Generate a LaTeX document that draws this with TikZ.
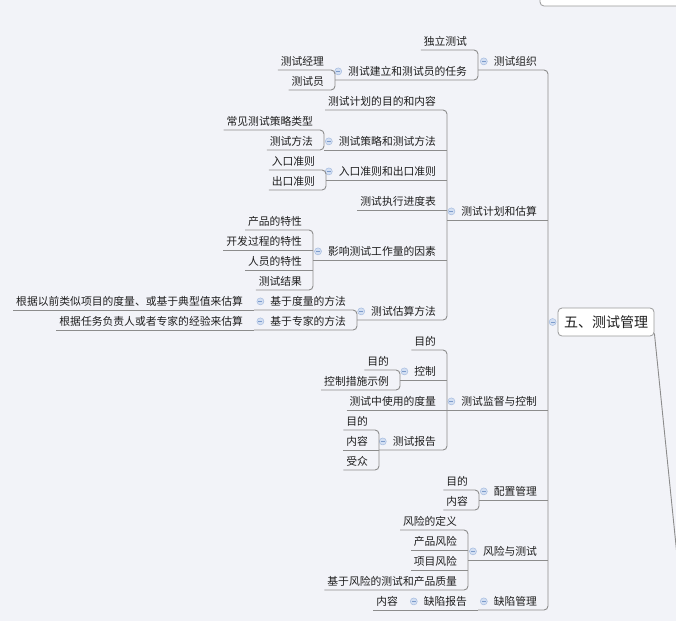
\documentclass[tikz,border=0pt]{standalone}
\usepackage{fontspec}
\newfontfamily\cjk{Noto Sans CJK SC}
\definecolor{bg}{HTML}{F2F3F8}
\definecolor{lnc}{HTML}{8C8C8C}
\definecolor{btnfill}{HTML}{D3DFF2}
\definecolor{btnedge}{HTML}{A6BCE0}
\definecolor{btnminus}{HTML}{7C9BCB}
\definecolor{txtc}{HTML}{1E1E1E}
\definecolor{boxedge}{HTML}{9A9A9A}
\tikzset{
  txt/.style={anchor=base east,inner sep=0pt,outer sep=0pt,text=txtc,font=\cjk\fontsize{10.8}{12}\selectfont},
  ln/.style={draw=lnc,line width=0.9pt},
  btn/.style={circle,fill=btnfill,draw=btnedge,line width=0.5pt,minimum size=7pt,inner sep=0pt,
    path picture={\draw[btnminus,line width=0.8pt] ([xshift=-2pt]path picture bounding box.center) -- ([xshift=2pt]path picture bounding box.center);}},
  rootbox/.style={draw=boxedge,fill=white,rounded corners=4pt,line width=0.8pt,minimum width=96pt,minimum height=28pt,inner sep=0pt,text=txtc,font=\cjk\fontsize{14}{16}\selectfont}
}
\newcommand\mleaf[4]{%
  \node[txt] (#1) at (#2-11,#3-4.5) {#4};
  \coordinate (#1-r) at (#2,#3);
  \coordinate (#1-l) at ([xshift=-3pt,yshift=-4.5pt]#1.base west);
}
\newcommand\mtopic[5]{%
  \node[txt] (#1) at (#2-11,#3-4.5) {#5};
  \coordinate (#1-r) at (#2,#3);
  \coordinate (#1-l) at (#4,#3);
  \node[btn] (#1-b) at ([xshift=-10pt]#1.west) {};
}
\newcommand\mbrk[2]{\draw[ln,rounded corners=4pt] (#1-l) -- (#1-r) -- (#2-r) -- (#2-l);}
\newcommand\mline[1]{\draw[ln] (#1-l) -- (#1-r);}
\begin{document}
\begin{tikzpicture}[x=1pt,y=-1pt]
\fill[bg] (0,0) rectangle (676,621);
\clip (0,0) rectangle (676,621);
\useasboundingbox (0,0) rectangle (676,621);
% previous sibling box (only its bottom shows)
\node[rootbox,minimum width=142pt,minimum height=30pt] (prev) at (611,-9) {};
% root
\node[rootbox] (root) at (606,322) {五、测试管理};
\node[btn] (root-b) at ([xshift=-5pt]root.west) {};
\coordinate (offpage) at (678.5,570);
\draw[ln] ([yshift=3pt]root.south east) -- (offpage);
% level 1
\mtopic{org}{548}{70}{478}{测试组织}
\mtopic{plan}{548}{220}{447}{测试计划和估算}
\mtopic{mon}{548}{410}{447}{测试监督与控制}
\mtopic{cfg}{548}{500}{479}{配置管理}
\mtopic{risk}{548}{560}{468}{风险与测试}
\mtopic{def}{548}{610}{478}{缺陷管理}
% org
\mleaf{ind}{478}{50}{独立测试}
\mtopic{est}{478}{80}{335}{测试建立和测试员的任务}
\mleaf{mgr}{335}{70}{测试经理}
\mleaf{tst}{335}{90}{测试员}
% plan
\mleaf{pp}{447}{110}{测试计划的目的和内容}
\mtopic{stg}{447}{150}{324}{测试策略和测试方法}
\mleaf{stga}{324}{130}{常见测试策略类型}
\mleaf{stgb}{324}{150}{测试方法}
\mtopic{ent}{447}{180}{326}{入口准则和出口准则}
\mleaf{enta}{326}{170}{入口准则}
\mleaf{entb}{326}{190}{出口准则}
\mleaf{sch}{447}{210}{测试执行进度表}
\mtopic{fac}{447}{260}{313}{影响测试工作量的因素}
\mleaf{faca}{313}{230}{产品的特性}
\mleaf{facb}{313}{250}{开发过程的特性}
\mleaf{facc}{313}{270}{人员的特性}
\mleaf{facd}{313}{290}{测试结果}
\mtopic{esm}{447}{320}{357}{测试估算方法}
\mtopic{mea}{357}{310}{254}{基于度量的方法}
\mleaf{meaa}{254}{310}{根据以前类似项目的度量、或基于典型值来估算}
\mtopic{exp}{357}{330}{254}{基于专家的方法}
\mleaf{expa}{254}{330}{根据任务负责人或者专家的经验来估算}
% mon
\mleaf{mona}{447}{350}{目的}
\mtopic{ctl}{447}{380}{400}{控制}
\mleaf{ctla}{400}{370}{目的}
\mleaf{ctlb}{400}{390}{控制措施示例}
\mleaf{mus}{447}{410}{测试中使用的度量}
\mtopic{rpt}{447}{450}{379}{测试报告}
\mleaf{rpta}{379}{430}{目的}
\mleaf{rptb}{379}{450}{内容}
\mleaf{rptc}{379}{470}{受众}
% cfg
\mleaf{cfga}{479}{490}{目的}
\mleaf{cfgb}{479}{510}{内容}
% risk
\mleaf{riska}{468}{530}{风险的定义}
\mleaf{riskb}{468}{550}{产品风险}
\mleaf{riskc}{468}{570}{项目风险}
\mleaf{riskd}{468}{590}{基于风险的测试和产品质量}
% def
\mtopic{rep}{478}{610}{409}{缺陷报告}
\mleaf{repa}{409}{610}{内容}
% connectors
\mbrk{org}{def} \mline{plan} \mline{mon} \mline{cfg} \mline{risk}
\mbrk{ind}{est}
\mbrk{mgr}{tst}
\mbrk{pp}{esm} \mline{stg} \mline{ent} \mline{sch} \mline{fac}
\mbrk{stga}{stgb}
\mbrk{enta}{entb}
\mbrk{faca}{facd} \mline{facb} \mline{facc}
\mbrk{mea}{exp} \mline{meaa} \mline{expa}
\mbrk{mona}{rpt} \mline{ctl} \mline{mus}
\mbrk{ctla}{ctlb}
\mbrk{rpta}{rptc} \mline{rptb}
\mbrk{cfga}{cfgb}
\mbrk{riska}{riskd} \mline{riskb} \mline{riskc}
\mline{rep} \mline{repa}
\end{tikzpicture}
\end{document}
